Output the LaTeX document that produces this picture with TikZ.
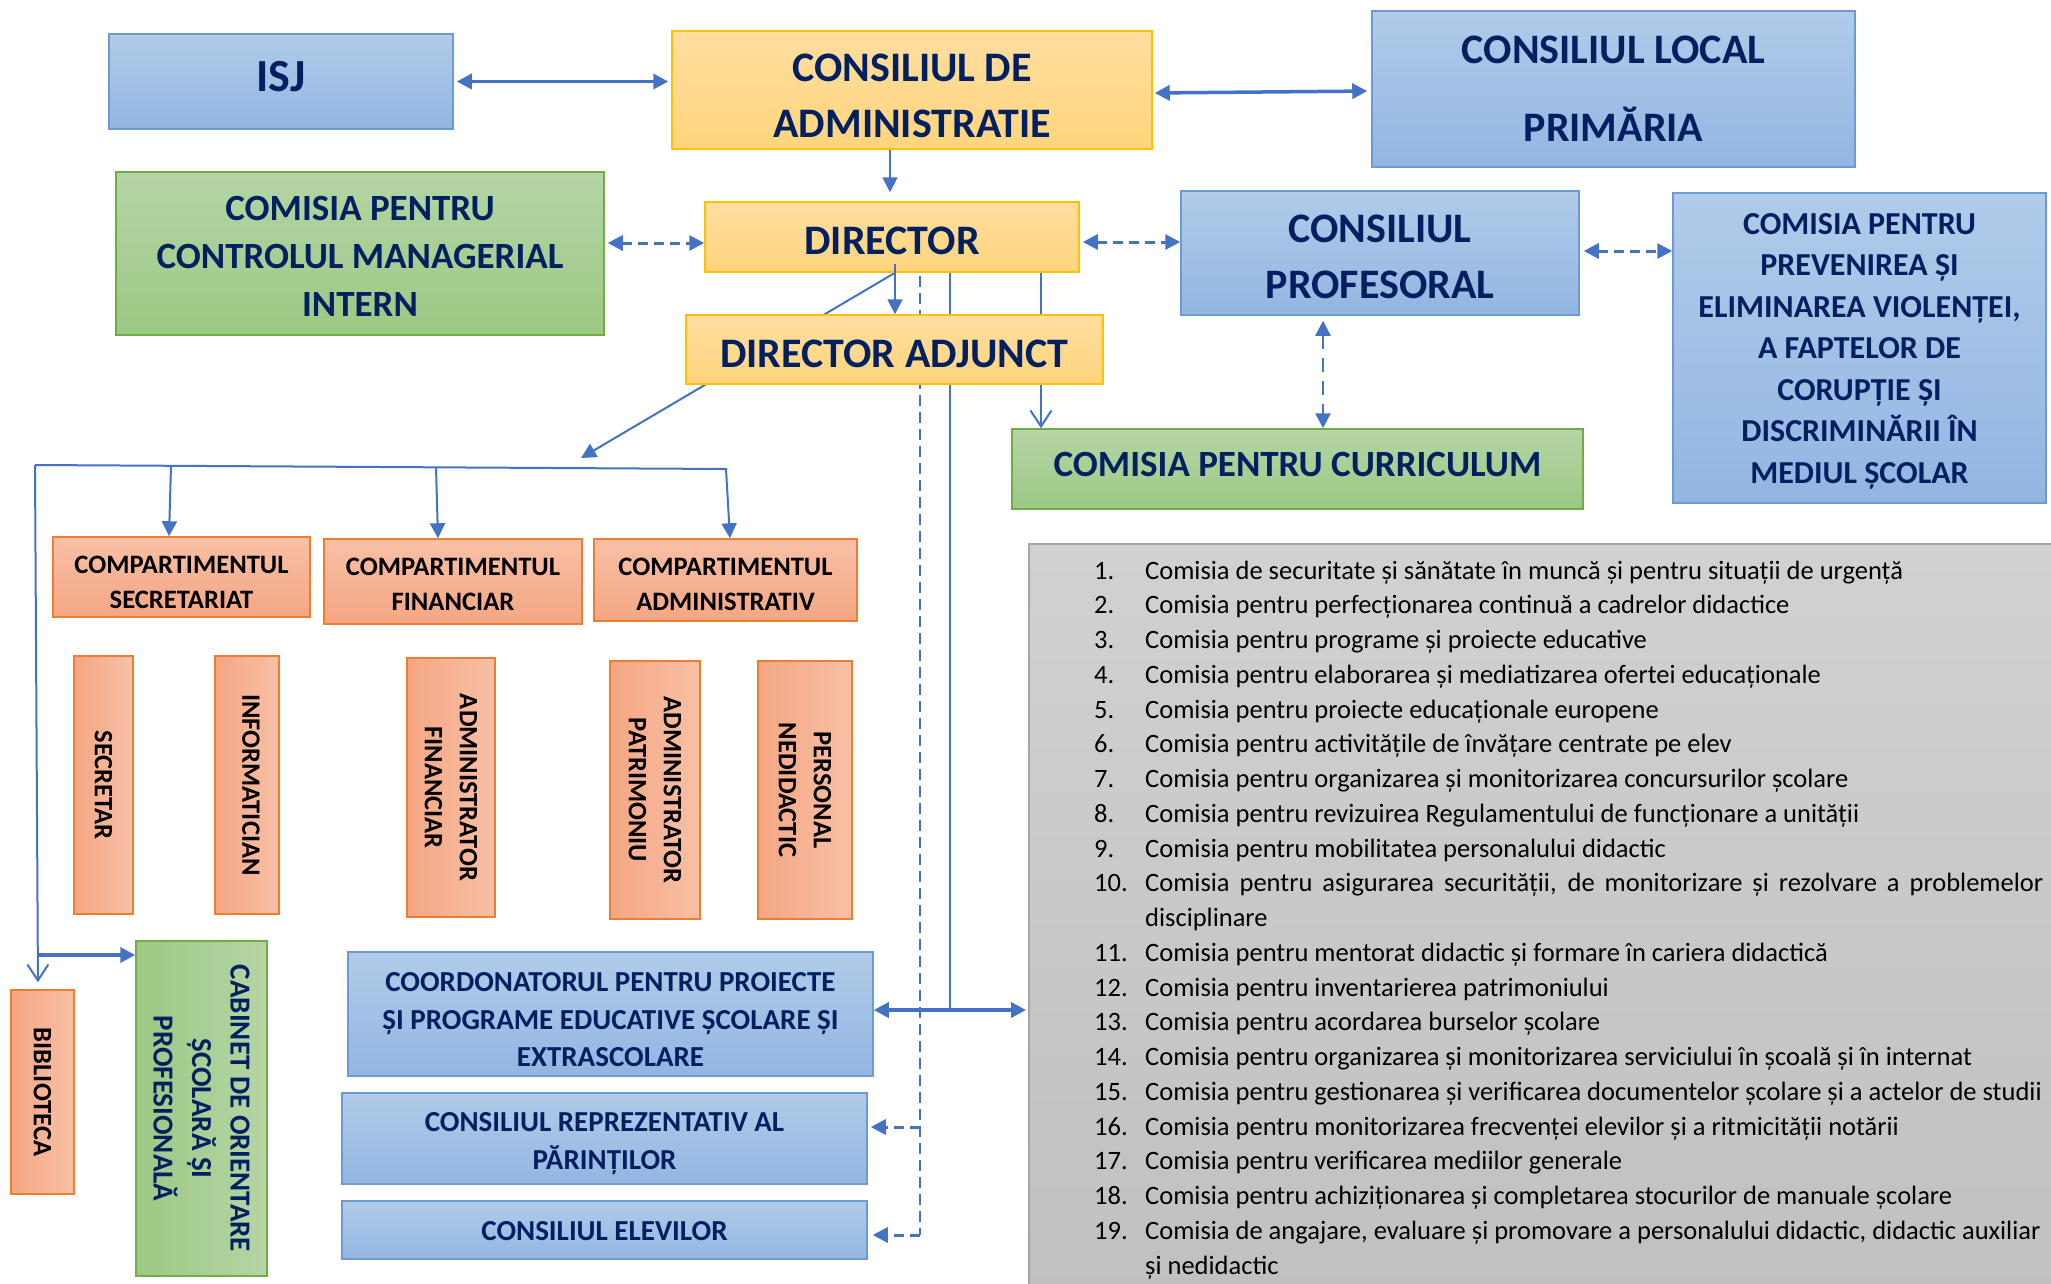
\documentclass[tikz,border=0pt]{standalone}
\usepackage{fontspec}
\setmainfont{Carlito}
\usetikzlibrary{arrows.meta,calc}
\definecolor{navy}{HTML}{002060}
\definecolor{lineblue}{HTML}{4472C4}
\definecolor{bluetop}{HTML}{B1CBE9}
\definecolor{bluebot}{HTML}{92B6E2}
\definecolor{bluebd}{HTML}{6C9BD2}
\definecolor{yeltop}{HTML}{FFDEA0}
\definecolor{yelbot}{HTML}{FFD47C}
\definecolor{yelbd}{HTML}{FFC000}
\definecolor{grntop}{HTML}{B5D5A5}
\definecolor{grnbot}{HTML}{9DC884}
\definecolor{grnbd}{HTML}{70AD47}
\definecolor{orlight}{HTML}{F8C0A6}
\definecolor{ordark}{HTML}{F4A683}
\definecolor{orbd}{HTML}{ED7D31}
\definecolor{listgray}{HTML}{C9C9C9}
\definecolor{listbd}{HTML}{A6A6A6}
\pgfdeclarelayer{bg}
\pgfsetlayers{bg,main}
\newcommand\itemno[1]{\makebox[51pt][l]{#1}}
\begin{document}
\begin{tikzpicture}[x=1pt,y=-1pt,
  box/.style={draw, line width=1.5pt, inner sep=0pt, align=center, text=navy},
  bluebox/.style={box, draw=bluebd, top color=bluetop, bottom color=bluebot},
  yelbox/.style={box, draw=yelbd, top color=yeltop, bottom color=yelbot},
  grnbox/.style={box, draw=grnbd, top color=grntop, bottom color=grnbot},
  orbox/.style={box, draw=orbd, top color=orlight, bottom color=ordark, text=black},
  orvbox/.style={box, draw=orbd, left color=ordark, right color=orlight},
  grnvbox/.style={box, draw=grnbd, left color=grnbot, right color=grntop},
  lab/.style={align=center, inner sep=0pt, text=navy},
  olab/.style={align=center, inner sep=0pt, text=black},
  vtext/.style={rotate=-90, align=center, inner sep=0pt, text=black, font=\fontsize{26.5}{35}\selectfont\bfseries},
  fA/.style={font=\fontsize{42}{56}\selectfont\bfseries},
  fB/.style={font=\fontsize{37}{48}\selectfont\bfseries},
  fC/.style={font=\fontsize{32}{41.5}\selectfont\bfseries},
  fD/.style={font=\fontsize{26.6}{35}\selectfont\bfseries},
  fE/.style={font=\fontsize{29}{37.5}\selectfont\bfseries},
  conn/.style={draw=lineblue, line width=2pt},
  heavy/.style={draw=lineblue, line width=3.5pt},
  dashy/.style={draw=lineblue, line width=3pt, dash pattern=on 10pt off 6pt},
  thindash/.style={draw=lineblue, line width=2pt, dash pattern=on 11pt off 6pt},
  tip/.style={-{Triangle[length=15pt,width=15pt]}},
  dtip/.style={{Triangle[length=15pt,width=15pt]}-{Triangle[length=15pt,width=15pt]}},
  vtip/.style={-{Straight Barb[length=16pt,width=21pt]}}
]
\useasboundingbox (0,0) rectangle (2051,1283);
\begin{pgfonlayer}{bg}
\fill[white] (0,0) rectangle (2051,1283);
\end{pgfonlayer}

% top row
\node[bluebox, minimum width=344, minimum height=95,
  label={[lab, font=\fontsize{46}{56}\selectfont\bfseries, yshift=5pt]center:ISJ}] (isj) at (281,81.5) {};
\node[yelbox, minimum width=480, minimum height=118,
  label={[lab, fA, yshift=-6pt]center:{CONSILIUL DE\\ADMINISTRATIE}}] (ca) at (912,90) {};
\node[bluebox, minimum width=483, minimum height=156,
  label={[lab, font=\fontsize{42}{78}\selectfont\bfseries]center:{CONSILIUL LOCAL\\PRIMĂRIA}}] (cl) at (1613.5,89) {};

% second row
\node[grnbox, minimum width=488, minimum height=163,
  label={[lab, fB, yshift=-3pt]center:{COMISIA PENTRU\\CONTROLUL MANAGERIAL\\INTERN}}] (ccmi) at (360,253.5) {};
\node[yelbox, minimum width=374, minimum height=70,
  label={[lab, fA, yshift=-4pt]center:DIRECTOR}] (dir) at (892,237) {};
\node[bluebox, minimum width=398, minimum height=124,
  label={[lab, fA, yshift=-4pt]center:{CONSILIUL\\PROFESORAL}}] (cp) at (1380,253) {};
\node[bluebox, minimum width=373, minimum height=310,
  label={[lab, fC, yshift=-3pt]center:{COMISIA PENTRU\\PREVENIREA ȘI\\ELIMINAREA VIOLENȚEI,\\A FAPTELOR DE\\CORUPȚIE ȘI\\DISCRIMINĂRII ÎN\\MEDIUL ȘCOLAR}}] (cpv) at (1859.5,348) {};

\node[yelbox, minimum width=417, minimum height=69,
  label={[lab, fA, yshift=-4pt]center:DIRECTOR ADJUNCT}] (da) at (894.5,349.5) {};
\node[grnbox, minimum width=571, minimum height=80,
  label={[lab, fB, yshift=5pt]center:COMISIA PENTRU CURRICULUM}] (cur) at (1297.5,469) {};

% compartments
\node[orbox, minimum width=257, minimum height=80,
  label={[olab, fD, yshift=-5pt]center:{COMPARTIMENTUL\\SECRETARIAT}}] (cs) at (181.5,577) {};
\node[orbox, minimum width=258, minimum height=85,
  label={[olab, fD, yshift=-3pt]center:{COMPARTIMENTUL\\FINANCIAR}}] (cf) at (453,581.5) {};
\node[orbox, minimum width=263, minimum height=82,
  label={[olab, fD, yshift=-4pt]center:{COMPARTIMENTUL\\ADMINISTRATIV}}] (cad) at (725.5,580) {};

% vertical boxes
\node[orvbox, minimum width=59, minimum height=258] (sec) at (103.5,785) {};
\node[vtext] (sect) at (sec) {SECRETAR};
\node[orvbox, minimum width=64, minimum height=258] (inf) at (247,785) {};
\node[vtext] (inft) at ($(inf)+(4,0)$) {INFORMATICIAN};
\node[orvbox, minimum width=88, minimum height=259] (afin) at (451,787.5) {};
\node[vtext] (afint) at (afin) {ADMINISTRATOR\\FINANCIAR};
\node[orvbox, minimum width=90, minimum height=258] (apat) at (655,790) {};
\node[vtext] (apatt) at (apat) {ADMINISTRATOR\\PATRIMONIU};
\node[orvbox, minimum width=94, minimum height=258] (pned) at (805,790) {};
\node[vtext] (pnedt) at (pned) {PERSONAL\\NEDIDACTIC};
\node[orvbox, minimum width=63, minimum height=204] (bib) at (42.5,1092) {};
\node[vtext] (bibt) at (bib) {BIBLIOTECA};
\node[grnvbox, minimum width=131, minimum height=335] (cab) at (201.5,1108.5) {};
\node[vtext, text=navy, font=\fontsize{29}{38.5}\selectfont\bfseries] (cabt) at (cab) {CABINET DE ORIENTARE\\ȘCOLARĂ ȘI\\PROFESIONALĂ};

% bottom blue boxes
\node[bluebox, minimum width=525, minimum height=124,
  label={[lab, fE, yshift=-6pt]center:{COORDONATORUL PENTRU PROIECTE\\ȘI PROGRAME EDUCATIVE ȘCOLARE ȘI\\EXTRASCOLARE}}] (coord) at (610.5,1014) {};
\node[bluebox, minimum width=525, minimum height=91,
  label={[lab, fE, yshift=-5pt]center:{CONSILIUL REPREZENTATIV AL\\PĂRINȚILOR}}] (crp) at (604.5,1138.5) {};
\node[bluebox, minimum width=525, minimum height=58,
  label={[lab, fE, yshift=-1pt]center:CONSILIUL ELEVILOR}] (ce) at (604.5,1230) {};

% list
\node[draw=listbd, line width=1.5pt, top color=listgray!85!white, bottom color=listgray!95!black, minimum width=1100, minimum height=800, anchor=north west, inner sep=0pt] (listbox) at (1028,543) {};
\node[anchor=base west, inner sep=0pt, text=black] (lst) at (1094,579) {\parbox[t]{957pt}{\fontsize{26.5}{34.75}\selectfont\parindent=0pt
\itemno{1.}Comisia de securitate și sănătate în muncă și pentru situații de urgență\par
\itemno{2.}Comisia pentru perfecționarea continuă a cadrelor didactice\par
\itemno{3.}Comisia pentru programe și proiecte educative\par
\itemno{4.}Comisia pentru elaborarea și mediatizarea ofertei educaționale\par
\itemno{5.}Comisia pentru proiecte educaționale europene\par
\itemno{6.}Comisia pentru activitățile de învățare centrate pe elev\par
\itemno{7.}Comisia pentru organizarea și monitorizarea concursurilor școlare\par
\itemno{8.}Comisia pentru revizuirea Regulamentului de funcționare a unității\par
\itemno{9.}Comisia pentru mobilitatea personalului didactic\par
\itemno{10.}\makebox[898pt][s]{Comisia pentru asigurarea securității, de monitorizare și rezolvare a problemelor}\par
\itemno{}disciplinare\par
\itemno{11.}Comisia pentru mentorat didactic și formare în cariera didactică\par
\itemno{12.}Comisia pentru inventarierea patrimoniului\par
\itemno{13.}Comisia pentru acordarea burselor școlare\par
\itemno{14.}Comisia pentru organizarea și monitorizarea serviciului în școală și în internat\par
\itemno{15.}Comisia pentru gestionarea și verificarea documentelor școlare și a actelor de studii\par
\itemno{16.}Comisia pentru monitorizarea frecvenței elevilor și a ritmicității notării\par
\itemno{17.}Comisia pentru verificarea mediilor generale\par
\itemno{18.}Comisia pentru achiziționarea și completarea stocurilor de manuale școlare\par
\itemno{19.}Comisia de angajare, evaluare și promovare a personalului didactic, didactic auxiliar\par
\itemno{}și nedidactic\par}};

% coordinates
\coordinate (bartip) at (581,458);
\coordinate (jc) at (950,1010);
\coordinate (dv) at (920,1235);
\coordinate (barL) at (35,465);
\coordinate (barR) at (727,469);
\coordinate (b1) at (171,466);
\coordinate (b2) at (436,467);
\coordinate (b3) at (726,469);
\coordinate (cabj) at (37.5,955);

% connectors behind boxes
\begin{pgfonlayer}{bg}
\draw[conn, tip] ($(dir.south)+(3,0)$) -- (bartip);
\draw[conn] (dir.south -| jc) -- (jc);
\draw[conn, vtip] (dir.south -| 1041,0) -- (cur.north -| 1041,0);
\draw[thindash] ($(dir.south -| dv)+(0,3)$) -- (dv);
\end{pgfonlayer}

% connectors
\draw[heavy, dtip, shorten <=3pt, shorten >=3pt] (isj.east) -- (isj.east -| ca.west);
\draw[heavy, dtip, shorten <=2pt, shorten >=4pt] (ca.east |- 0,93) -- (cl.west |- 0,91);
\draw[conn, tip, shorten >=9pt] ($(ca.south)+(-22,0)$) -- ($(dir.north)+(-2,0)$);
\draw[dashy, dtip, shorten <=3pt] (ccmi.east |- 0,243) -- (dir.west |- 0,243);
\draw[dashy, dtip, shorten <=3pt] (dir.east |- 0,242) -- (cp.west |- 0,242);
\draw[dashy, dtip, shorten <=4pt] (cp.east |- 0,251) -- (cpv.west |- 0,251);
\draw[draw=lineblue, line width=2.5pt, dash pattern=on 14pt off 9pt, dtip, shorten <=5pt] (cp.south -| 1323,0) -- (cur.north -| 1323,0);
\draw[conn, tip] ($(dir.south)+(3,-9)$) -- (da.north -| 895,0);
\draw[dashy, tip, shorten >=3pt] (dv |- 0,1127) -- (crp.east |- 0,1127);
\draw[dashy, tip, shorten >=5pt] (dv) -- (ce.east |- dv);
\draw[heavy, dtip, shorten >=2pt] (coord.east |- jc) -- (listbox.west |- jc);
\draw[conn] (barL) -- (barR);
\draw[conn, tip] (b1) -- (cs.north -| 169,0);
\draw[conn, tip] (b2) -- (cf.north -| 438,0);
\draw[conn, tip] (b3) -- (cad.north -| 730,0);
\draw[conn, vtip, shorten >=7pt] (barL) -- (bib.north -| 38,0);
\draw[heavy, tip] (cabj) -- (cab.west |- cabj);
\end{tikzpicture}
\end{document}
